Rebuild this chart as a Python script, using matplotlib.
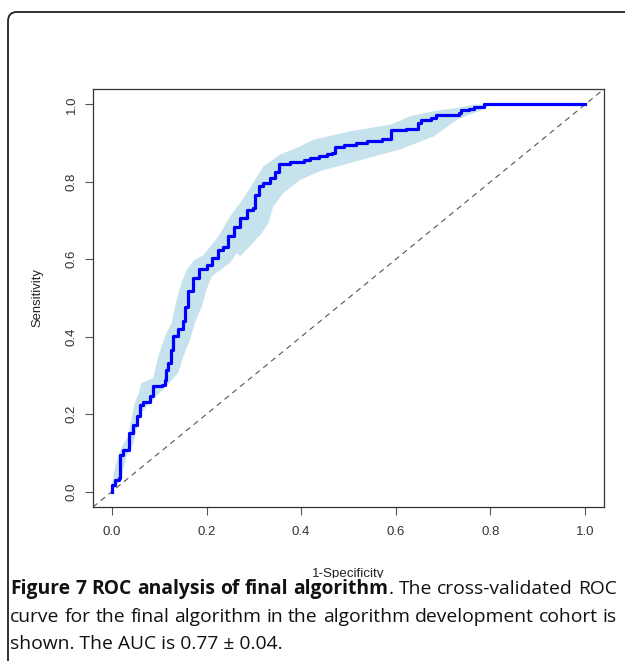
import numpy as np
import matplotlib.pyplot as plt
from matplotlib.patches import FancyBboxPatch, Rectangle

# ROC curve vertices (1-specificity, sensitivity)
fpr = [0.0, 0.0, 0.007, 0.016, 0.018, 0.023, 0.036, 0.036, 0.045, 0.053, 0.059, 0.066,
       0.080, 0.087, 0.105, 0.113, 0.115, 0.118, 0.124, 0.129, 0.140, 0.151, 0.154, 0.161,
       0.172, 0.185, 0.200, 0.211, 0.225, 0.235, 0.246, 0.257, 0.271, 0.285, 0.299, 0.303,
       0.310, 0.320, 0.334, 0.345, 0.354, 0.377, 0.405, 0.419, 0.437, 0.455, 0.465, 0.472,
       0.490, 0.515, 0.540, 0.571, 0.589, 0.621, 0.646, 0.653, 0.674, 0.684, 0.734, 0.737,
       0.755, 0.766, 0.787, 1.0]
tpr = [0.0, 0.017, 0.030, 0.035, 0.095, 0.108, 0.112, 0.151, 0.172, 0.194, 0.224, 0.231,
       0.246, 0.272, 0.276, 0.289, 0.315, 0.332, 0.366, 0.401, 0.420, 0.440, 0.478, 0.517,
       0.552, 0.575, 0.586, 0.604, 0.625, 0.632, 0.659, 0.684, 0.707, 0.727, 0.733, 0.767,
       0.789, 0.797, 0.810, 0.826, 0.847, 0.851, 0.856, 0.862, 0.868, 0.871, 0.875, 0.891,
       0.895, 0.901, 0.906, 0.911, 0.933, 0.937, 0.953, 0.961, 0.966, 0.974, 0.979, 0.985,
       0.989, 0.994, 1.0, 1.0]

# confidence band edges
band_up_x = [0.0, 0.0, 0.006, 0.013, 0.023, 0.034, 0.041, 0.047, 0.057, 0.062, 0.087, 0.098,
             0.112, 0.126, 0.137, 0.147, 0.158, 0.175, 0.193, 0.225, 0.250, 0.281, 0.303,
             0.320, 0.356, 0.391, 0.426, 0.504, 0.589, 0.631, 0.681, 0.730, 0.766, 0.801]
band_up_y = [0.0, 0.020, 0.056, 0.091, 0.121, 0.142, 0.185, 0.224, 0.254, 0.280, 0.293, 0.349,
             0.401, 0.435, 0.496, 0.539, 0.573, 0.599, 0.610, 0.659, 0.711, 0.763, 0.806,
             0.840, 0.871, 0.888, 0.909, 0.931, 0.948, 0.970, 0.983, 0.991, 1.0, 1.0]
band_lo_x = [0.0, 0.006, 0.020, 0.031, 0.045, 0.052, 0.062, 0.080, 0.115, 0.140, 0.151, 0.165,
             0.175, 0.190, 0.200, 0.211, 0.250, 0.264, 0.271, 0.292, 0.317, 0.331, 0.341,
             0.363, 0.398, 0.440, 0.504, 0.582, 0.610, 0.681, 0.730, 0.780, 0.801]
band_lo_y = [0.0, 0.009, 0.039, 0.091, 0.125, 0.160, 0.203, 0.229, 0.272, 0.306, 0.349, 0.392,
             0.435, 0.478, 0.522, 0.556, 0.591, 0.616, 0.608, 0.634, 0.668, 0.694, 0.737,
             0.772, 0.805, 0.828, 0.849, 0.875, 0.884, 0.918, 0.961, 0.985, 1.0]

ticks = [0.0, 0.2, 0.4, 0.6, 0.8, 1.0]
tick_labels = ["0.0", "0.2", "0.4", "0.6", "0.8", "1.0"]

caption_bold = "Figure 7 ROC analysis of final algorithm"
caption_rest = ". The cross-validated ROC"
caption_line2 = "curve for the final algorithm in the algorithm development cohort is"
caption_line3 = "shown. The AUC is 0.77 \u00b1 0.04."

W, H = 625, 661
fig = plt.figure(figsize=(W / 100, H / 100), dpi=100)

# outer rounded frame (runs off the right and bottom edges)
frame = FancyBboxPatch((8 / W, -0.2), 1.2, (1 - 12 / H) + 0.2,
                       boxstyle="round,pad=0,rounding_size=0.014",
                       transform=fig.transFigure, fill=False, edgecolor="#222222",
                       linewidth=1.3, clip_on=False)
fig.patches.append(frame)

ax = fig.add_axes([93 / W, 1 - 507 / H, 511 / W, 418 / H])
ax.set_xlim(-0.04, 1.04)
ax.set_ylim(-0.04, 1.04)

px = np.concatenate([band_up_x, band_lo_x[::-1]])
py = np.concatenate([band_up_y, band_lo_y[::-1]])
ax.fill(px, py, color="#c6e3ed", linewidth=0, zorder=1)
ax.plot(fpr, tpr, color="#0000ff", linewidth=2.3, drawstyle="steps-post", zorder=3)
ax.axline((0, 0), (1, 1), color="#555555", linewidth=0.8, dashes=(5, 4), zorder=2)

for sp in ax.spines.values():
    sp.set_color("#333333")
    sp.set_linewidth(0.9)

ax.set_xticks(ticks)
ax.set_xticklabels(tick_labels)
ax.set_yticks(ticks)
ax.set_yticklabels(tick_labels, rotation=90, va="center")
ax.tick_params(axis="x", direction="out", length=5.5, width=0.8, color="#555555",
               pad=8, labelsize=9.5, labelcolor="#333333")
ax.tick_params(axis="y", direction="out", length=6, width=0.8, color="#555555",
               pad=5, labelsize=9.5, labelcolor="#333333")
for lab in ax.get_xticklabels() + ax.get_yticklabels():
    lab.set_family("Liberation Sans")

fig.text(348 / W, 1 - 568 / H, "1-Specificity", ha="center", va="top",
         fontsize=9.6, family="Liberation Sans", color="#222222")
fig.text(37 / W, 1 - 298 / H, "Sensitivity", ha="center", va="center", rotation=90,
         fontsize=9.4, family="Liberation Sans", color="#222222")

# caption panel hides the bottom of the x label, as in the original
fig.patches.append(Rectangle((10 / W, 0), 1, 1 - 578 / H, transform=fig.transFigure,
                             facecolor="white", edgecolor="none", zorder=4))

cap_size = 13.9
renderer = fig.canvas.get_renderer()


def justified(words, y, x0=10, x1=617):
    # words: list of (text, weight); spread them between x0 and x1
    arts = []
    for w, wt in words:
        t = fig.text(0, 1 - y / H, w, ha="left", va="center", fontsize=cap_size,
                     family="Open Sans", weight=wt, color="#111111", zorder=5)
        arts.append(t)
    widths = [a.get_window_extent(renderer=renderer).width for a in arts]
    gaps = [i for i in range(1, len(words)) if not words[i][0].startswith(".")]
    gap = (x1 - x0 - sum(widths)) / max(len(gaps), 1)
    x = x0
    for i, (a, wd) in enumerate(zip(arts, widths)):
        if i in gaps:
            x += gap
        a.set_x(x / W)
        x += wd


line1 = [(w, "bold") for w in caption_bold.split()]
line1 += [(".", "normal"), ("The", "normal")]
line1 += [(w, "normal") for w in caption_rest.split()[2:]]
justified(line1, 589)
justified([(w, "normal") for w in caption_line2.split()], 617)
fig.text(10 / W, 1 - 644 / H, caption_line3, ha="left", va="center", fontsize=cap_size,
         family="Open Sans", color="#111111", zorder=5)

fig.savefig("out.png", dpi=100)
